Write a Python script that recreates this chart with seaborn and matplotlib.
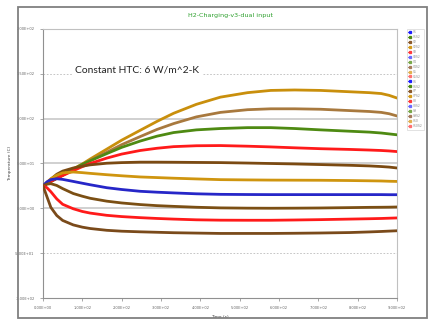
import numpy as np
import pandas as pd
import matplotlib
matplotlib.use("Agg")
import matplotlib.pyplot as plt
from matplotlib.lines import Line2D
from matplotlib.patches import Rectangle
from matplotlib.ticker import FuncFormatter
import seaborn as sns

# tempos (s)
tempo = [0, 10, 20, 35, 50, 77, 100, 120, 162, 200, 247, 290, 332, 390, 451, 520,
         579, 640, 706, 780, 830, 860, 880, 900]

# temperaturas de cada curva (C), de cima para baixo
c1 = [25, 27.5, 30, 33.5, 37, 44, 49.5, 55, 66, 76, 87, 97, 106, 116, 124, 129,
      131.5, 132, 131.5, 130, 129, 128, 126, 123]
c2 = [25, 27.5, 30, 33.5, 37, 43.5, 49, 53.5, 62.5, 71, 80, 88, 94.5, 102, 107, 110,
      111, 111, 110.5, 109, 108, 107, 105.5, 103]
c3 = [25, 27.5, 30, 33.5, 37, 43.5, 49, 53, 61, 68, 75, 80.5, 84.5, 87.5, 89, 90,
      90, 89, 87.5, 86, 85, 84, 83, 82]
c4 = [25, 27.5, 30, 33.5, 36.5, 42, 46.5, 50, 56, 60.5, 64.5, 67, 68.8, 69.8, 70, 69.3,
      68.5, 67.5, 66.5, 65.7, 65, 64.5, 64, 63.3]
c5 = [25, 28.5, 32.5, 38, 41.5, 45, 47, 48.5, 50.3, 51, 51.5, 51.5, 51.4, 51.2, 51, 50.5,
      50, 49.5, 48.8, 48, 47.3, 46.6, 46, 45]
c6 = [25, 29, 33, 37, 39.5, 40.5, 39.8, 39, 37.5, 36.3, 35, 34.3, 33.6, 32.8, 32, 31.7,
      31.5, 31.4, 31.3, 31, 30.7, 30.5, 30.2, 30]
c7 = [25, 29.5, 32, 33, 32.3, 30, 28, 26.3, 23, 21, 19, 18, 17.2, 16.2, 15.6, 15.4,
      15.3, 15.3, 15.3, 15.3, 15.3, 15.3, 15.2, 15.2]
c8 = [25, 27, 27.5, 25.5, 22, 16.5, 13.5, 11.2, 8, 6, 4.2, 3, 2.2, 1.2, 0.5, 0.2,
      0.1, 0.2, 0.4, 0.8, 1.1, 1.2, 1.3, 1.5]
c9 = [25, 23, 18.5, 10.5, 4.5, -0.5, -3.5, -5.3, -7.8, -9.2, -10.4, -11.3, -12, -12.8, -13.2, -13.3,
      -13.3, -13, -12.6, -12, -11.6, -11.3, -11, -10.7]
c10 = [25, 13, 1, -8, -13.5, -18.5, -21, -22.5, -24.5, -25.5, -26.2, -26.7, -27.2, -27.6, -28, -28,
       -28, -27.8, -27.5, -27, -26.3, -25.8, -25.4, -25]

curvas = [c1, c2, c3, c4, c5, c6, c7, c8, c9, c10]
cores_curvas = ["#c98f0c", "#a8793e", "#4e8a12", "#ff1a1a", "#7b4a12",
                "#cf950f", "#2626c8", "#7b4f14", "#ff1a1a", "#7a4a1a"]

legenda_nomes = ["V1", "V1S2", "V2", "V2S2", "V3", "V3S2", "V4", "V4S2", "V5", "V5S2",
                 "V6", "V6S2", "V7", "V7S2", "V8", "V8S2", "V9", "V9S2", "V10", "V10S2"]
legenda_cores = ["#1f1fff", "#4e8a12", "#8b5a2b", "#d49a1a", "#ff3b3b",
                 "#6a6aff", "#7aa84a", "#a67b5b", "#e0b050", "#ff7070"] * 2

y_ticks = [-100, -50, 0, 50, 100, 150, 200]
x_ticks = [0, 100, 200, 300, 400, 500, 600, 700, 800, 900]

df = pd.concat(
    [pd.DataFrame({"Time": tempo, "Temp": c, "curva": f"c{i + 1}"}) for i, c in enumerate(curvas)],
    ignore_index=True)

sns.set_style("white")
fig = plt.figure(figsize=(4.3, 3.22), dpi=100)
ax = fig.add_axes([43 / 430, 1 - 298 / 322, 354 / 430, 269 / 322])

sns.lineplot(data=df, x="Time", y="Temp", hue="curva", palette=cores_curvas,
             linewidth=2.0, legend=False, ax=ax, zorder=3)

ax.set_xlim(0, 900)
ax.set_ylim(-100, 200)
ax.set_xticks(x_ticks)
ax.set_yticks(y_ticks)
fmt = FuncFormatter(lambda v, p: f"{v:.2E}")
ax.xaxis.set_major_formatter(fmt)
ax.yaxis.set_major_formatter(fmt)
ax.tick_params(labelsize=2.6, colors="#666666", length=2.5, width=0.4, direction="out")
ax.tick_params(axis="y", left=True)
ax.tick_params(axis="x", bottom=True)

# linhas de grade (algumas tracejadas como no original)
for v in y_ticks[1:-1]:
    if v in (-50, 150):
        ax.axhline(v, color="#bbbbbb", lw=0.6, ls=(0, (2, 2)), zorder=1)
    else:
        ax.axhline(v, color="#c8c8c8", lw=1.2, zorder=1)

for s in ax.spines.values():
    s.set_color("#c0c0c0")
    s.set_linewidth(0.8)
ax.spines["left"].set_color("#909090")
ax.spines["bottom"].set_color("#909090")

ax.set_xlabel("Time (s)", fontsize=3.2, color="#444444", labelpad=3)
ax.set_ylabel("Temperature (C)", fontsize=3.2, color="#444444", labelpad=2)

ax.text(0.09, 0.848, "Constant HTC: 6 W/m^2-K", transform=ax.transAxes,
        fontsize=7.4, family="Lato", color="#222222",
        va="center", ha="left",
        bbox=dict(facecolor="white", edgecolor="none", pad=2), zorder=2)

fig.text(230 / 430, 1 - 15 / 322, "H2-Charging-v3-dual input", fontsize=4.6,
         color="#2ea02e", ha="center", va="center")

handles = [Line2D([0], [0], color=c, lw=0.8, marker="s", markersize=1.4) for c in legenda_cores]
leg = fig.legend(handles, legenda_nomes, loc="upper left",
                 bbox_to_anchor=(405 / 430, 1 - 27 / 322), fontsize=2.2,
                 handlelength=1.2, labelspacing=0.32, borderpad=0.4,
                 handletextpad=0.4, frameon=True, fancybox=False)
leg.get_frame().set_edgecolor("#cccccc")
leg.get_frame().set_linewidth(0.5)
for t in leg.get_texts():
    t.set_color("#888888")

# moldura externa
fig.patches.append(Rectangle((18 / 430, 4 / 322), 409 / 430, 311 / 322,
                             transform=fig.transFigure, fill=False,
                             edgecolor="#808080", lw=1.3))

fig.savefig("out.png", dpi=100)
